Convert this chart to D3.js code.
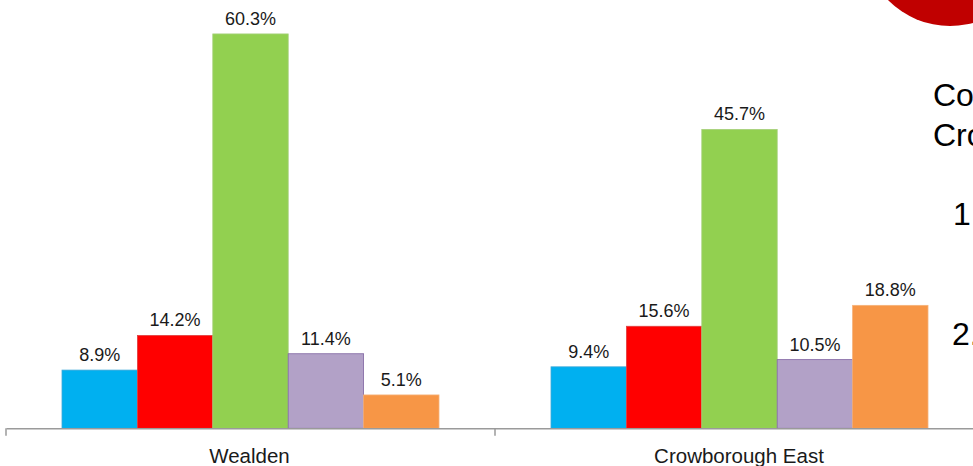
<!DOCTYPE html>
<html>
<head>
<meta charset="utf-8">
<script src="https://cdn.jsdelivr.net/npm/d3@7"></script>
<style>
  html, body { margin: 0; padding: 0; background: #fff; overflow: hidden; }
  svg { display: block; font-family: "Liberation Sans", Arial, sans-serif; }
</style>
</head>
<body>
<svg id="chart" width="973" height="466"></svg>
<script>
const categories = ["Wealden", "Crowborough East"];
const seriesNames = ["s1", "s2", "s3", "s4", "s5"];
const seriesColors = ["#00B0F0", "#FF0000", "#92D050", "#B2A1C7", "#F79646"];
const seriesStrokes = ["#3FA9D8", "#E04040", "#A6CF7A", "#8064A2", "#F5B27A"];
const wealdenValues = [8.9, 14.2, 60.3, 11.4, 5.1];
const crowboroughValues = [9.4, 15.6, 45.7, 10.5, 18.8];
const sideTexts = [
  { t: "Co", x: 933, y: 106 },
  { t: "Cro", x: 933, y: 146 },
  { t: "1.", x: 953, y: 225 },
  { t: "2.", x: 952, y: 345 }
];

const data = categories.map((c, i) => ({
  cat: c,
  values: (i === 0 ? wealdenValues : crowboroughValues).map((v, j) => ({ key: seriesNames[j], v, j }))
}));

const svg = d3.select("#chart");
const baseY = 428.3;
const pxPerUnit = 6.54;

const x0 = d3.scaleBand().domain(categories).range([6, 984]).paddingInner(0).paddingOuter(0);
const x1 = d3.scaleBand().domain(seriesNames).range([56, x0.bandwidth() - 56]).padding(0);
const y = d3.scaleLinear().domain([0, 65]).range([baseY, baseY - 65 * pxPerUnit]);

// red circle decoration
svg.append("circle").attr("cx", 950).attr("cy", -61).attr("r", 87).attr("fill", "#C00000");

// bars
const groups = svg.selectAll("g.grp").data(data).join("g")
  .attr("class", "grp")
  .attr("transform", d => `translate(${x0(d.cat)},0)`);

groups.selectAll("rect").data(d => d.values).join("rect")
  .attr("x", d => x1(d.key))
  .attr("y", d => y(d.v))
  .attr("width", x1.bandwidth())
  .attr("height", d => y(0) - y(d.v))
  .attr("fill", d => seriesColors[d.j])
  .attr("stroke", d => seriesStrokes[d.j])
  .attr("stroke-width", 0.8);

groups.selectAll("text.lbl").data(d => d.values).join("text")
  .attr("class", "lbl")
  .attr("x", d => x1(d.key) + x1.bandwidth() / 2)
  .attr("y", d => y(d.v) - 9)
  .attr("text-anchor", "middle")
  .attr("font-size", 18)
  .attr("fill", "#1a1a1a")
  .text(d => d.v.toFixed(1) + "%");

// axis
const axis = d3.axisBottom(x0).tickSizeOuter(0).tickSizeInner(0).tickFormat("");
const axG = svg.append("g").attr("transform", `translate(0,${baseY})`).call(axis);
axG.select(".domain").attr("stroke", "#9a9a9a").attr("stroke-width", 1.5);
axG.selectAll(".tick").remove();
// category separators (tick marks at band edges)
svg.selectAll("line.sep").data(categories).join("line")
  .attr("class", "sep")
  .attr("x1", d => x0(d)).attr("x2", d => x0(d))
  .attr("y1", baseY).attr("y2", baseY + 7.5)
  .attr("stroke", "#9a9a9a").attr("stroke-width", 1.5);

svg.selectAll("text.cat").data(categories).join("text")
  .attr("class", "cat")
  .attr("x", d => x0(d) + x0.bandwidth() / 2 + (d === categories[1] ? -0.5 : -1))
  .attr("y", 463)
  .attr("text-anchor", "middle")
  .attr("font-size", 20.5)
  .attr("fill", "#1a1a1a")
  .text(d => d);

// cut-off side text
svg.selectAll("text.side").data(sideTexts).join("text")
  .attr("class", "side")
  .attr("x", d => d.x).attr("y", d => d.y)
  .attr("font-size", 32)
  .attr("fill", "#000")
  .text(d => d.t);
</script>
</body>
</html>
